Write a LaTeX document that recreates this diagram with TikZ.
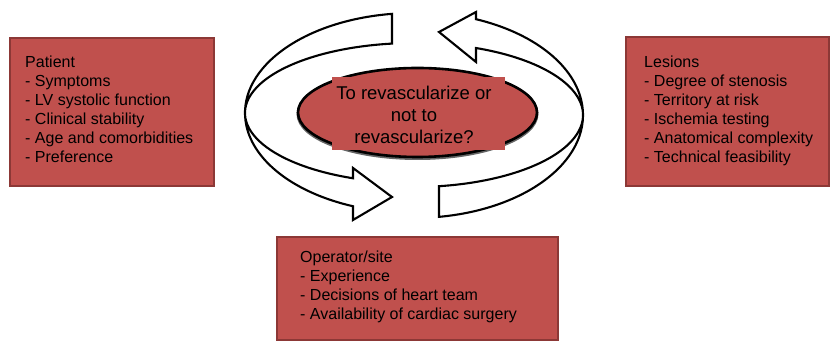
\documentclass[tikz,border=0pt]{standalone}
\usepackage{fontspec}
\setmainfont{Liberation Sans}
\usetikzlibrary{calc}
\definecolor{boxred}{RGB}{192,80,77}
\definecolor{boxedge}{RGB}{140,56,54}
\tikzset{
  infobox/.style={fill=boxred, draw=boxedge, line width=1.5pt},
  boxtext/.style={anchor=north west, inner sep=0pt, align=left, font=\fontsize{16}{19}\selectfont},
  bandarrow/.style={fill=white, draw=black, line width=2.1pt, line join=miter},
}
\begin{document}
\begin{tikzpicture}[x=1pt,y=1pt]
\useasboundingbox (0,0) rectangle (830,342);
% boxes
\draw[infobox] (10,156) rectangle (214,304);
\draw[infobox] (626,156) rectangle (829,305);
\draw[infobox] (277,2) rectangle (558,105);
\node[boxtext] (patient) at (25,286.5) {Patient\\- Symptoms\\- LV systolic function\\- Clinical stability\\- Age and comorbidities\\- Preference};
\node[boxtext] (lesions) at (644,286.5) {Lesions\\- Degree of stenosis\\- Territory at risk\\- Ischemia testing\\- Anatomical complexity\\- Technical feasibility};
\node[boxtext] (operator) at (300,91.5) {Operator/site\\- Experience\\- Decisions of heart team\\- Availability of cardiac surgery};
% circular arrows
\coordinate (LC) at (414,229);
\coordinate (RC) at (414,227);
\draw[bandarrow] ($(LC)+(97.48:169 and 100)$) arc[start angle=97.48, end angle=248.84, x radius=169, y radius=100]
  -- (353,122) -- (392,145) -- (353,174)
  -- ($(LC)+(248.84:169 and 70)$) arc[start angle=248.84, end angle=97.48, x radius=169, y radius=70] -- cycle;
\draw[bandarrow] ($(RC)+(-81.49:169 and 103)$) arc[start angle=-81.49, end angle=68.48, x radius=169, y radius=103]
  -- (476,330) -- (439,310) -- (476,280)
  -- ($(RC)+(68.48:169 and 72)$) arc[start angle=68.48, end angle=-81.49, x radius=169, y radius=72] -- cycle;
% central ellipse
\draw[black!60, line width=3pt] (417.5,228) ellipse [x radius=119.5, y radius=44.5];
\draw[fill=boxred, draw=black, line width=2.6pt] (417.5,229.5) ellipse [x radius=119.5, y radius=44.5];
\fill[boxred] (332,192) rectangle (505,265);
\node[anchor=north, inner sep=0pt, align=center, font=\fontsize{18.5}{22}\selectfont] (question) at (414,256.5) {To revascularize or\\not to\\revascularize?};
\end{tikzpicture}
\end{document}
